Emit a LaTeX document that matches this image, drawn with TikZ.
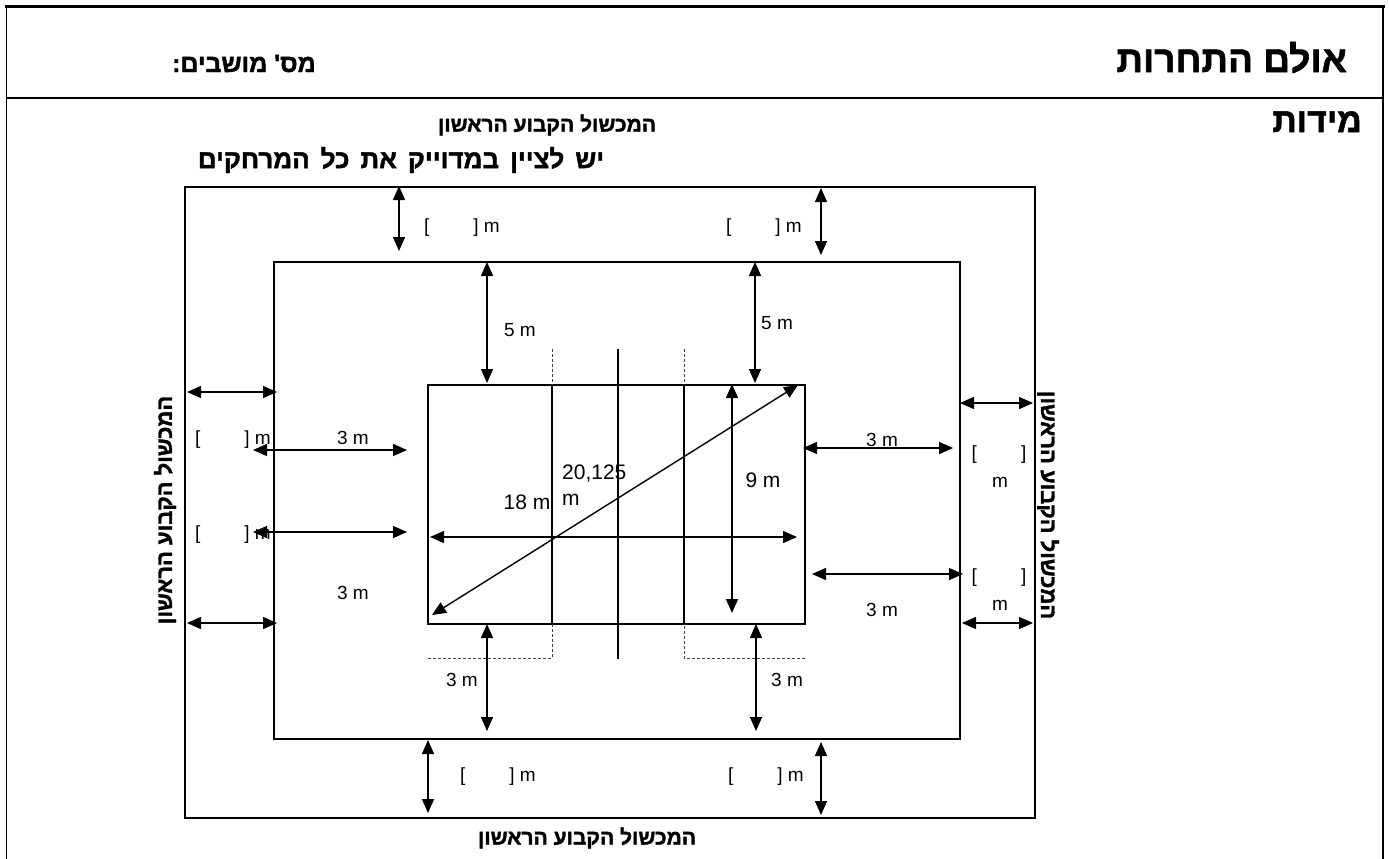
\documentclass[tikz,border=0pt]{standalone}
\usepackage{fontspec}
\setmainfont{Liberation Sans}
\newfontfamily\heb[Script=Hebrew, FakeBold=1.6, BoldFont={Liberation Sans Bold}]{Liberation Sans Bold}
\usetikzlibrary{arrows.meta}
\TeXXeTstate=1
\newcommand{\fsz}[1]{\fontsize{#1}{#1}\selectfont}
\newcommand{\brk}{[\hspace{44pt}] m}
\newcommand{\wsp}{\hspace{11pt}}
\begin{document}
\begin{tikzpicture}[x=1pt,y=-1pt,
  box/.style={line width=2pt},
  dim/.style={line width=1.4pt,{Triangle[length=14pt,width=12pt]}-{Triangle[length=14pt,width=12pt]}},
  guide/.style={line width=0.8pt, dash pattern=on 3pt off 2pt, black!75},
  lbl/.style={font=\fsz{19}, inner sep=0pt},
  clbl/.style={font=\fsz{21}, inner sep=0pt},
  hb/.style={font=\heb\bfseries\fsz{21}, inner sep=0pt},
]
\useasboundingbox (0,0) rectangle (1389,859);
% frame
\draw[line width=3.5pt] (5,6.5) -- (1385,6.5);
\draw[line width=1.5pt] (6.5,5) -- (6.5,859);
\draw[line width=1.5pt] (1383,5) -- (1383,859);
\draw[line width=2pt] (6,98) -- (1384,98);
% header texts
\node[hb, font=\heb\bfseries\fsz{37}, anchor=base east] (title) at (1347,72) {\beginR אולם התחרות\endR};
\node[hb, font=\heb\bfseries\fsz{25}, anchor=base east] (seats) at (316,72) {\beginR מס' מושבים:\endR};
\node[hb, font=\heb\bfseries\fsz{34}, anchor=base east] (dims) at (1362,132) {\beginR מידות\endR};
% rectangles
\draw[box] (185,187) rectangle (1035,818);
\draw[box] (274,262) rectangle (960,739);
\draw[box] (428,384.5) rectangle (805,623.5);
% court lines
\draw[box] (552,384.5) -- (552,623.5);
\draw[box] (684,384.5) -- (684,623.5);
\draw[box] (618,349) -- (618,659);
\draw[guide] (552,349) -- (552,384.5);
\draw[guide] (684,349) -- (684,384.5);
\draw[guide] (428,658) -- (552,658) -- (552,623.5);
\draw[guide] (805,658) -- (684,658) -- (684,623.5);
% dimension arrows
\draw[dim] (399,186) -- (399,251);
\draw[dim] (821,188) -- (821,255);
\draw[dim] (487,262) -- (487,383);
\draw[dim] (755,262) -- (755,383);
\draw[dim] (430,537) -- (797,537);
\draw[dim] (432,615) -- (798,385);
\draw[dim] (732,384) -- (732,613);
\draw[dim] (487,624) -- (487,731);
\draw[dim] (756,624) -- (756,731);
\draw[dim] (428,740) -- (428,813);
\draw[dim] (821,742) -- (821,815);
\draw[dim] (187,392) -- (277,392);
\draw[dim] (187,623) -- (277,623);
\draw[dim] (253,450) -- (407,450);
\draw[dim] (253,532) -- (407,532);
\draw[dim] (803,448) -- (953,448);
\draw[dim] (812,574) -- (963,574);
\draw[dim] (960,403) -- (1033,403);
\draw[dim] (962,623) -- (1033,623);
% labels
\node[lbl] (t5l) at (520,330) {5 m};
\node[lbl] (t5r) at (777,323) {5 m};
\node[lbl] (l3a) at (353,438) {3 m};
\node[lbl] (l3b) at (353,593) {3 m};
\node[lbl] (r3a) at (882,440) {3 m};
\node[lbl] (r3b) at (882,610) {3 m};
\node[lbl] (b3l) at (462,680) {3 m};
\node[lbl] (b3r) at (787,680) {3 m};
\node[clbl, anchor=west] (diag) at (562,474) {20,125};
\node[clbl, anchor=west] (diagm) at (562,500) {m};
\node[clbl] (len) at (527,502) {18 m};
\node[clbl] (wid) at (763,480) {9 m};
% bracket labels
\node[lbl, anchor=east] (btl) at (500,228) {\brk};
\node[lbl, anchor=east] (btr) at (802,228) {\brk};
\node[lbl, anchor=east] (bbl) at (536,777) {\brk};
\node[lbl, anchor=east] (bbr) at (804,777) {\brk};
\node[lbl, anchor=east] (bla) at (271,440) {\brk};
\node[lbl, anchor=east] (blb) at (271,535) {\brk};
\node[lbl] (bra) at (999,455) {[\hspace{44pt}]};
\node[lbl] (bram) at (1000,482) {m};
\node[lbl] (brb) at (999,578) {[\hspace{44pt}]};
\node[lbl] (brbm) at (1000,605) {m};
% hebrew side texts
\node[hb] (obst1) at (547,125) {\beginR המכשול הקבוע הראשון\endR};
\node[hb, font=\heb\bfseries\fsz{26}] (note) at (401,160) {\beginR יש\wsp לציין\wsp במדוייק\wsp את\wsp כל\wsp המרחקים\endR};
\node[hb] (obst2) at (587,838) {\beginR המכשול הקבוע הראשון\endR};
\node[hb, font=\heb\bfseries\fsz{22}, rotate=90] (obst3) at (165,510) {\beginR המכשול הקבוע הראשון\endR};
\begin{scope}
\clip (1037,300) rectangle (1100,700);
\node[hb, font=\heb\bfseries\fsz{22}, rotate=-90] (obst4) at (1048,505) {\beginR המכשול הקבוע הראשון\endR};
\end{scope}
\end{tikzpicture}
\end{document}
